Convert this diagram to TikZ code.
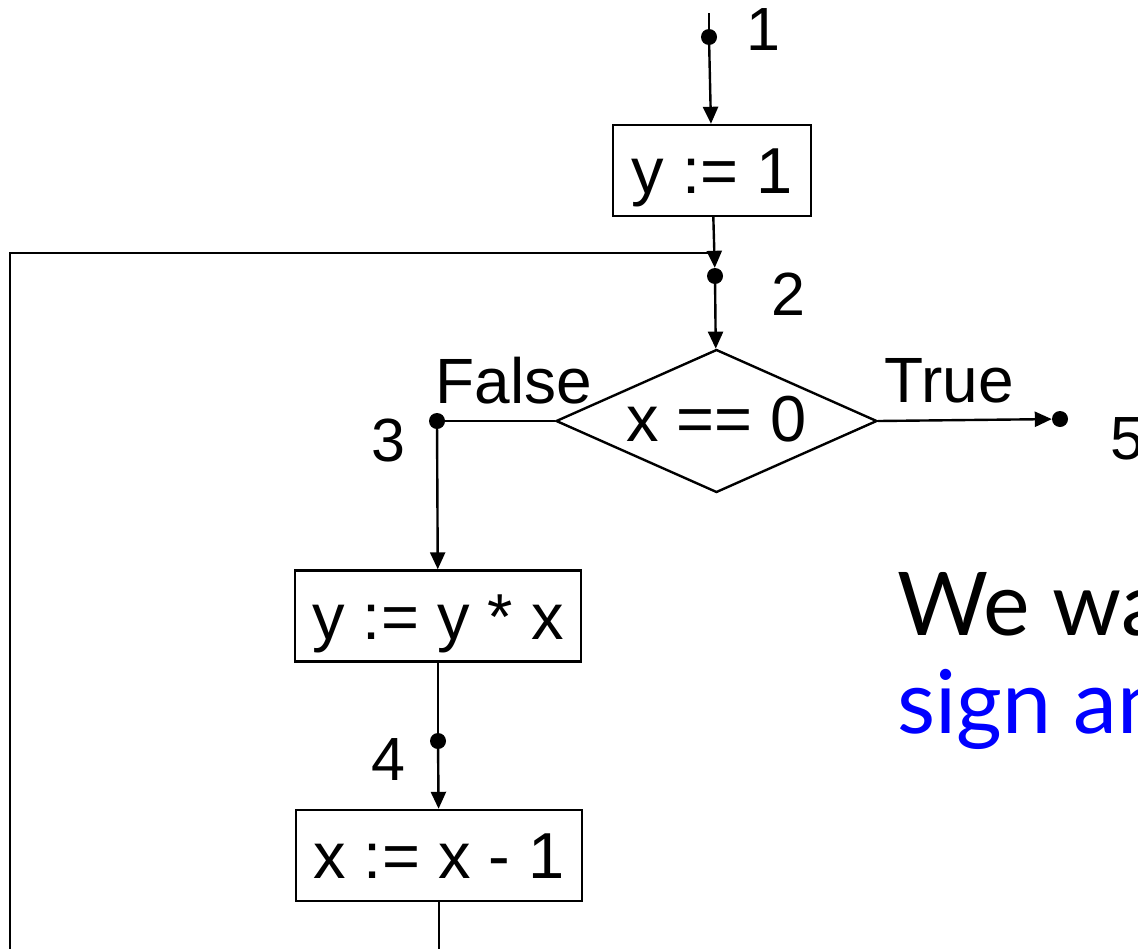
\documentclass[tikz,border=0pt]{standalone}
\usepackage{fontspec}
\setmainfont{Liberation Sans}
\newfontfamily\notefont{Lato}
\usetikzlibrary{shapes.geometric,arrows.meta}
\definecolor{noteblue}{rgb}{0.0,0.0,1.0}
\tikzset{
  wire/.style={draw=black, line width=2.4pt},
  flow/.style={wire, -{Triangle[length=17pt,width=15pt]}},
  stmtbox/.style={draw=black, line width=2.4pt, inner sep=0pt, minimum height=91pt,
    text height=48pt, text depth=2pt, font=\fontsize{65}{70}\selectfont},
  testbox/.style={draw=black, line width=2.4pt, diamond, aspect=2.24, inner sep=0pt,
    minimum width=321pt, minimum height=143pt, text height=48pt, text depth=7pt,
    font=\fontsize{65}{70}\selectfont},
  progpt/.style={circle, fill=black, inner sep=0pt, minimum size=16pt},
  ptlabel/.style={inner sep=0pt, font=\fontsize{61}{64}\selectfont},
  note/.style={inner sep=0pt, anchor=base west, font=\notefont\fontsize{88}{98}\selectfont}
}
\begin{document}
\begin{tikzpicture}[x=1pt, y=-1pt]
\useasboundingbox (0,0) rectangle (1138,948);
\clip (0,0) rectangle (1138,948);
% program points
\coordinate (entry) at (709,13);
\node[progpt] (p1) at (709,37) {};
\node[progpt] (p2) at (715,276) {};
\node[progpt] (p3) at (437,421) {};
\node[progpt] (p4) at (438,741) {};
\node[progpt] (p5) at (1060,419) {};
\node[ptlabel] (l1) at (763,30) {1};
\node[ptlabel] (l2) at (788,294) {2};
\node[ptlabel] (l3) at (388,440) {3};
\node[ptlabel] (l4) at (388,760) {4};
\node[ptlabel] (l5) at (1127,439) {5};
% statements
\node[stmtbox, minimum width=198pt] (init) at (712,170.5) {y := 1};
\node[testbox] (test) at (716.5,421) {x == 0};
\node[stmtbox, minimum width=286pt] (mult) at (438,616) {y := y * x};
\node[stmtbox, minimum width=286pt] (decr) at (439,855.5) {x := x - 1};
\node[ptlabel, font=\fontsize{64}{66}\selectfont] (lfalse) at (514,381) {False};
\node[ptlabel, font=\fontsize{64}{66}\selectfont] (ltrue) at (949,381) {True};
% edges
\draw[wire] (entry) -- (p1);
\draw[flow] (p1) -- (init);
\draw[flow] (init) -- (p2);
\draw[flow] (p2) -- (test);
\draw[wire] (test.west) -- (p3);
\draw[flow] (p3) -- (mult);
\draw[wire] (mult) -- (p4);
\draw[flow] (p4) -- (decr);
\draw[flow] (test.east) -- (p5);
% back edge
\coordinate (loopbot) at (439,1000);
\coordinate (loopleft) at (10,1000);
\coordinate (looptop) at (10,253);
\coordinate (loopjoin) at (714,253);
\draw[wire] (decr) -- (loopbot) -- (loopleft) -- (looptop) -- (loopjoin);
% remark
\node[note] (note1) at (897,635) {We want};
\node[note, text=noteblue] (note2) at (897,733) {sign and};
\end{tikzpicture}
\end{document}
